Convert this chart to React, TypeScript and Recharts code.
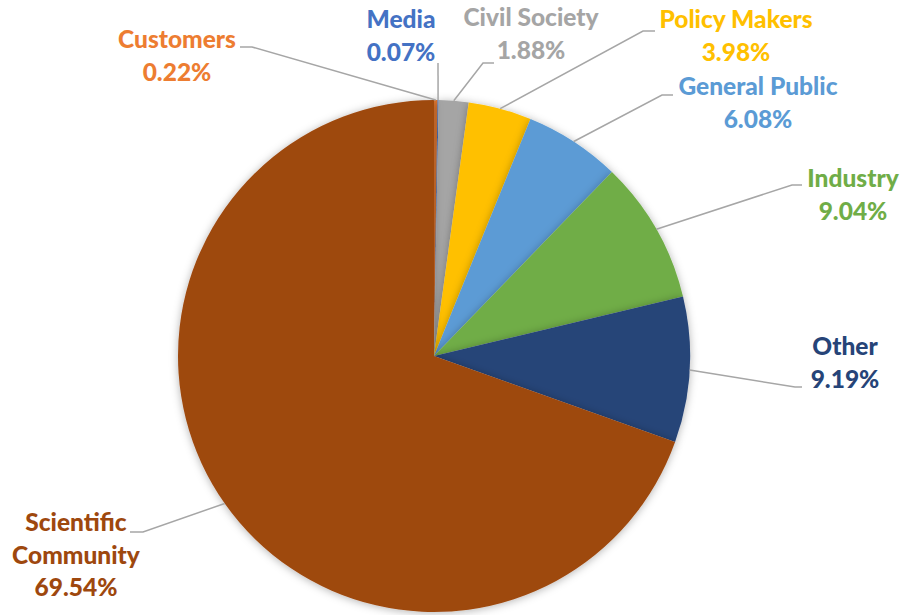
import React from "react";
import { PieChart, Pie, Cell } from "recharts";

const categories = [
  "Customers",
  "Media",
  "Civil Society",
  "Policy Makers",
  "General Public",
  "Industry",
  "Other",
  "Scientific Community",
];
const shares = [0.22, 0.07, 1.88, 3.98, 6.08, 9.04, 9.19, 69.54];
const colors = [
  "#ED7D31",
  "#4472C4",
  "#A5A5A5",
  "#FFC000",
  "#5B9BD5",
  "#70AD47",
  "#264478",
  "#9E480E",
];
const labelLines = [
  ["Customers"],
  ["Media"],
  ["Civil Society"],
  ["Policy Makers"],
  ["General Public"],
  ["Industry"],
  ["Other"],
  ["Scientific", "Community"],
];

// label layout: text centre (tx, ty of first line), elbow (ex, ey), horizontal end hx
const layout = [
  { tx: 177, ty: 48, ex: 252, ey: 47, hx: 240 },
  { tx: 401, ty: 28, ex: 438, ey: 63, hx: 438 },
  { tx: 531, ty: 26, ex: 483, ey: 63, hx: 494 },
  { tx: 736, ty: 28, ex: 643, ey: 31, hx: 655 },
  { tx: 758, ty: 95, ex: 662, ey: 95, hx: 673 },
  { tx: 853, ty: 187, ex: 792, ey: 185, hx: 802 },
  { tx: 845, ty: 355, ex: 795, ey: 387, hx: 802 },
  { tx: 76, ty: 531, ex: 143, ey: 532, hx: 130 },
];

const data = categories.map((name, i) => ({ name, value: shares[i] }));

const RAD = Math.PI / 180;

const renderLabel = (props: any) => {
  const { cx, cy, midAngle, outerRadius, index } = props;
  const L = layout[index];
  const px = cx + outerRadius * Math.cos(-midAngle * RAD);
  const py = cy + outerRadius * Math.sin(-midAngle * RAD);
  const lines = [...labelLines[index], shares[index].toFixed(2) + "%"];
  return (
    <g key={"lbl" + index}>
      <polyline
        points={`${px},${py} ${L.ex},${L.ey} ${L.hx},${L.ey}`}
        fill="none"
        stroke="#A6A6A6"
        strokeWidth={1.5}
      />
      <text
        x={L.tx}
        y={L.ty}
        textAnchor="middle"
        fill={colors[index]}
        style={{ fontFamily: "Lato", fontWeight: 900, fontSize: 24.5 }}
      >
        {lines.map((t, k) => (
          <tspan key={k} x={L.tx} dy={k === 0 ? 0 : 32.5}>
            {t}
          </tspan>
        ))}
      </text>
    </g>
  );
};

export default function App() {
  return (
    <div style={{ position: "absolute", left: 0, top: 0, width: 901, height: 615, background: "#fff" }}>
      <PieChart width={901} height={615} margin={{ top: 0, right: 0, bottom: 0, left: 0 }}>
        <defs>
          <filter id="pieShadow" x="-20%" y="-20%" width="140%" height="140%">
            <feDropShadow dx="0" dy="1" stdDeviation="4" floodColor="#000" floodOpacity="0.3" />
          </filter>
        </defs>
        <Pie
          data={data}
          dataKey="value"
          nameKey="name"
          cx={434}
          cy={356}
          outerRadius={256}
          startAngle={90}
          endAngle={-270}
          stroke="none"
          label={renderLabel}
          labelLine={false}
          isAnimationActive={false}
          style={{ filter: "url(#pieShadow)" }}
        >
          {data.map((d, i) => (
            <Cell key={d.name} fill={colors[i]} stroke="none" />
          ))}
        </Pie>
      </PieChart>
    </div>
  );
}
